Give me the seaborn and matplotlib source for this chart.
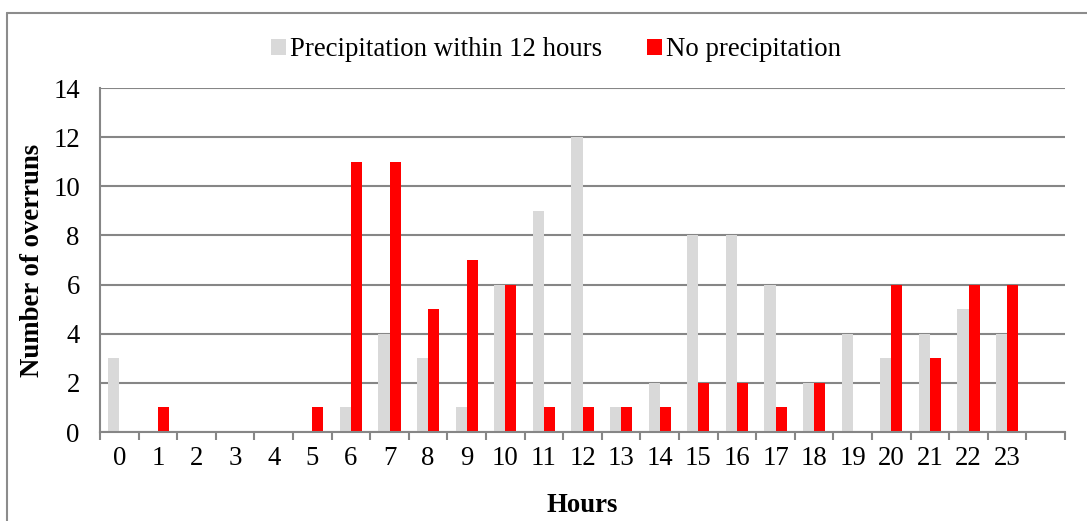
import matplotlib
matplotlib.use('Agg')
import matplotlib.pyplot as plt
import numpy as np
import pandas as pd
import seaborn as sns
from matplotlib.lines import Line2D

hours = [str(h) for h in range(24)]
precip = [3, 0, 0, 0, 0, 0, 1, 4, 3, 1, 6, 9, 12, 1, 2, 8, 8, 6, 2, 4, 3, 4, 5, 4]
no_precip = [0, 1, 0, 0, 0, 1, 11, 11, 5, 7, 6, 1, 1, 1, 1, 2, 2, 1, 2, 0, 6, 3, 6, 6]
series = ['Precipitation within 12 hours', 'No precipitation']
colors = ['#d9d9d9', '#ff0000']

df = pd.DataFrame({
    'hour': hours * 2,
    'count': precip + no_precip,
    'series': [series[0]] * 24 + [series[1]] * 24,
})

sns.set_style('white')
plt.rcParams['font.family'] = ['Liberation Serif', 'DejaVu Serif']
plt.rcParams['font.size'] = 19.3
plt.rcParams['text.color'] = 'black'
plt.rcParams['axes.labelcolor'] = 'black'
plt.rcParams['xtick.color'] = 'black'
plt.rcParams['ytick.color'] = 'black'

fig = plt.figure(figsize=(10.87, 5.21), dpi=100)
ax = fig.add_axes([100 / 1087, 89 / 521, 965 / 1087, 344 / 521])

sns.barplot(
    data=df,
    x='hour',
    y='count',
    hue='series',
    order=hours,
    hue_order=series,
    palette=colors,
    width=0.57,
    gap=0,
    saturation=1,
    edgecolor='none',
    legend=True,
    ax=ax,
)

fs = 19.3
grid_c = '#868686'
ax.set_xlim(-0.5, 24.5)
ax.set_ylim(0, 14)
ax.set_yticks(np.arange(0, 15, 2))
ax.yaxis.grid(True, color=grid_c, linewidth=1.5)
ax.set_axisbelow(True)
for s in ['top', 'right']:
    ax.spines[s].set_visible(False)
for s in ['left', 'bottom']:
    ax.spines[s].set_color(grid_c)
    ax.spines[s].set_linewidth(1.5)

ax.set_xticks(np.arange(24))
ax.set_xticklabels(hours)
ax.set_xticks(np.arange(-0.5, 25, 1), minor=True)
ax.tick_params(axis='x', which='major', length=0, pad=10, labelsize=fs, labelcolor='black')
ax.tick_params(axis='x', which='minor', length=6, width=1.5, color=grid_c, direction='out')
ax.tick_params(axis='y', length=6.5, width=1.5, color=grid_c, pad=8, labelsize=fs, labelcolor='black')
ax.tick_params(axis='x', bottom=True, which='both')

ax.set_xlabel('Hours', fontweight='bold', fontsize=fs, labelpad=16)
ax.set_ylabel('Number of overruns', fontweight='bold', fontsize=fs, labelpad=6)

handles, labels = ax.get_legend_handles_labels()
ax.legend(
    handles, labels,
    loc='center', bbox_to_anchor=(556 / 1087, 1 - 50 / 521),
    bbox_transform=fig.transFigure,
    ncol=2, frameon=False, fontsize=fs,
    handlelength=0.55, handleheight=0.55, handletextpad=0.15, columnspacing=1.7,
)

fig.add_artist(Line2D([7 / 1087, 7 / 1087], [0, 1 - 13 / 521], transform=fig.transFigure, color='#8c8c8c', linewidth=1.5))
fig.add_artist(Line2D([7 / 1087, 1], [1 - 13 / 521, 1 - 13 / 521], transform=fig.transFigure, color='#8c8c8c', linewidth=1.5))

fig.savefig('out.png', dpi=100)
